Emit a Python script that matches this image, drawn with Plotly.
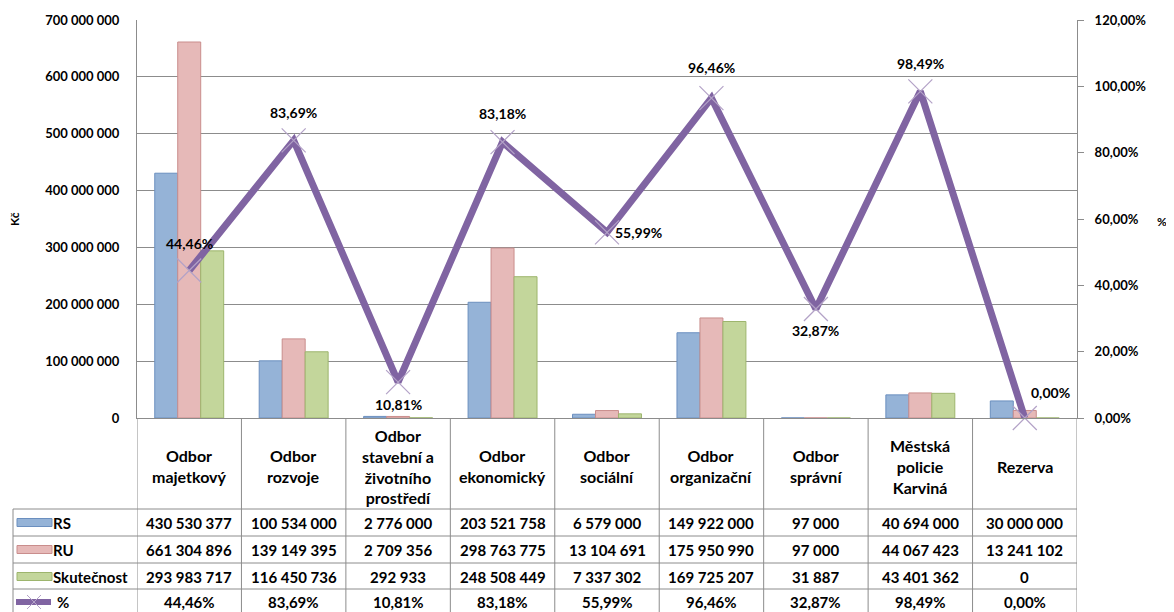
import plotly.graph_objects as go

# data
kategorie = ["Odbor<br>majetkový", "Odbor<br>rozvoje", "Odbor<br>stavební a<br>životního<br>prostředí",
             "Odbor<br>ekonomický", "Odbor<br>sociální", "Odbor<br>organizační", "Odbor<br>správní",
             "Městská<br>policie<br>Karviná", "Rezerva"]
rs = [430530377, 100534000, 2776000, 203521758, 6579000, 149922000, 97000, 40694000, 30000000]
ru = [661304896, 139149395, 2709356, 298763775, 13104691, 175950990, 97000, 44067423, 13241102]
skutecnost = [293983717, 116450736, 292933, 248508449, 7337302, 169725207, 31887, 43401362, 0]
procenta = [44.46, 83.69, 10.81, 83.18, 55.99, 96.46, 32.87, 98.49, 0.00]

levy_ticks = [0, 100e6, 200e6, 300e6, 400e6, 500e6, 600e6, 700e6]
pravy_ticks = [0, 20, 40, 60, 80, 100, 120]

FONT = "Lato"
GRID = "#8c8c8c"
BARVY = {"RS": ("#95b3d7", "#6b8fbf"), "RU": ("#e6b9b8", "#c98d8c"), "Skutečnost": ("#c3d69b", "#9db56d")}
FIALOVA = "#8064a2"

# page has an 8px body margin, so the figure starts at screen (8, 8)
OFF = 8
W, H = 1174 - OFF, 612 - OFF
# plot area in screen pixels
L, R, T, B = 137, 1077, 20, 418


def px_x(px):
    return (px - L) / (R - L)


def px_y(py):
    return (B - py) / (B - T)


def fmt_kc(v):
    return f"{int(v):,}".replace(",", " ")


def fmt_pct(p):
    return f"{p:.2f}%".replace(".", ",")


def bold(size):
    return dict(family=FONT, size=size, color="black", weight="bold")


def text(fig, xv, yv, txt, size, xref="x", xanchor="center", **kw):
    fig.add_annotation(x=xv, y=yv, xref=xref, yref="paper", text=txt, showarrow=False,
                       xanchor=xanchor, yanchor="middle", font=bold(size), **kw)


x = list(range(len(kategorie)))

fig = go.Figure()
for name, vals in [("RS", rs), ("RU", ru), ("Skutečnost", skutecnost)]:
    fill, edge = BARVY[name]
    fig.add_trace(go.Bar(x=x, y=vals, name=name, marker=dict(color=fill, line=dict(color=edge, width=1))))

fig.add_trace(go.Scatter(
    x=x, y=procenta, name="%", yaxis="y2", mode="lines+markers", cliponaxis=False,
    line=dict(color=FIALOVA, width=7),
    marker=dict(symbol="x-thin", size=24, line=dict(color="#b3a2c7", width=1.2)),
))

# data labels of the % line
posuny = [(0, 27), (0, 28), (0, -22), (0, 29), (31, 0), (0, 31), (0, -22), (0, 28), (26, 26)]
for xi, p, (dx, dy) in zip(x, procenta, posuny):
    fig.add_annotation(x=xi, y=p, yref="y2", text=fmt_pct(p), showarrow=False,
                       xanchor="center", yanchor="middle", xshift=dx, yshift=dy, font=bold(14))

# data table below the chart
shapes = []
radky = [509, 536, 563, 589, 616]
for ry in radky:
    shapes.append(dict(type="line", xref="paper", yref="paper", x0=px_x(13), x1=1,
                       y0=px_y(ry), y1=px_y(ry), line=dict(color=GRID, width=1)))
for i in range(len(kategorie) + 1):
    shapes.append(dict(type="line", xref="x", yref="paper", x0=i - 0.5, x1=i - 0.5,
                       y0=0, y1=px_y(616), line=dict(color=GRID, width=1)))
shapes.append(dict(type="line", xref="paper", yref="paper", x0=px_x(13), x1=px_x(13),
                   y0=px_y(509), y1=px_y(616), line=dict(color=GRID, width=1)))

for xi, k in zip(x, kategorie):
    text(fig, xi, px_y(466), k, 16)

stredy = [522.5, 549.5, 576.5, 602]
for (name, vals), sy in zip([("RS", rs), ("RU", ru), ("Skutečnost", skutecnost)], stredy):
    fill, edge = BARVY[name]
    shapes.append(dict(type="rect", xref="paper", yref="paper", x0=px_x(17), x1=px_x(52),
                       y0=px_y(sy + 4), y1=px_y(sy - 4), fillcolor=fill, line=dict(color=edge, width=1)))
    text(fig, px_x(51), px_y(sy), name, 15, xref="paper", xanchor="left")
    for xi, v in zip(x, vals):
        text(fig, xi, px_y(sy), fmt_kc(v), 15)

sy = stredy[3]
shapes.append(dict(type="line", xref="paper", yref="paper", x0=px_x(16), x1=px_x(51),
                   y0=px_y(sy), y1=px_y(sy), line=dict(color=FIALOVA, width=6)))
for a, b in [((27, sy - 7), (41, sy + 7)), ((27, sy + 7), (41, sy - 7))]:
    shapes.append(dict(type="line", xref="paper", yref="paper", x0=px_x(a[0]), x1=px_x(b[0]),
                       y0=px_y(a[1]), y1=px_y(b[1]), line=dict(color="#b3a2c7", width=1)))
text(fig, px_x(55), px_y(sy), "%", 15, xref="paper", xanchor="left")
for xi, p in zip(x, procenta):
    text(fig, xi, px_y(sy), fmt_pct(p), 15)

# axis titles
text(fig, px_x(14), px_y(219), "Kč", 12, xref="paper", textangle=-90)
text(fig, px_x(1162), px_y(221), "%", 12, xref="paper")

fig.update_layout(
    width=W, height=H,
    margin=dict(l=L - OFF, r=W - (R - OFF), t=T - OFF, b=H - (B - OFF)),
    paper_bgcolor="white", plot_bgcolor="white",
    barmode="group", bargap=0.34, bargroupgap=0,
    showlegend=False,
    shapes=shapes,
    font=dict(family=FONT, color="black"),
    xaxis=dict(range=[-0.5, len(kategorie) - 0.5], showticklabels=False, ticks="", automargin=False,
               showgrid=False, showline=True, linecolor=GRID, zeroline=False, fixedrange=True),
    yaxis=dict(range=[0, 700e6], tickvals=levy_ticks, ticktext=[fmt_kc(v) for v in levy_ticks],
               showgrid=True, gridcolor=GRID, gridwidth=1, showline=True, linecolor=GRID,
               zeroline=False, ticks="", ticklabelstandoff=14, tickfont=bold(13), automargin=False),
    yaxis2=dict(range=[0, 120], overlaying="y", side="right", tickvals=pravy_ticks,
                ticktext=[fmt_pct(v) for v in pravy_ticks], showgrid=False, showline=True,
                linecolor=GRID, zeroline=False, ticks="outside", ticklen=6, tickcolor=GRID,
                ticklabelstandoff=8, tickfont=bold(13), automargin=False),
)

fig.write_html("out.html")
